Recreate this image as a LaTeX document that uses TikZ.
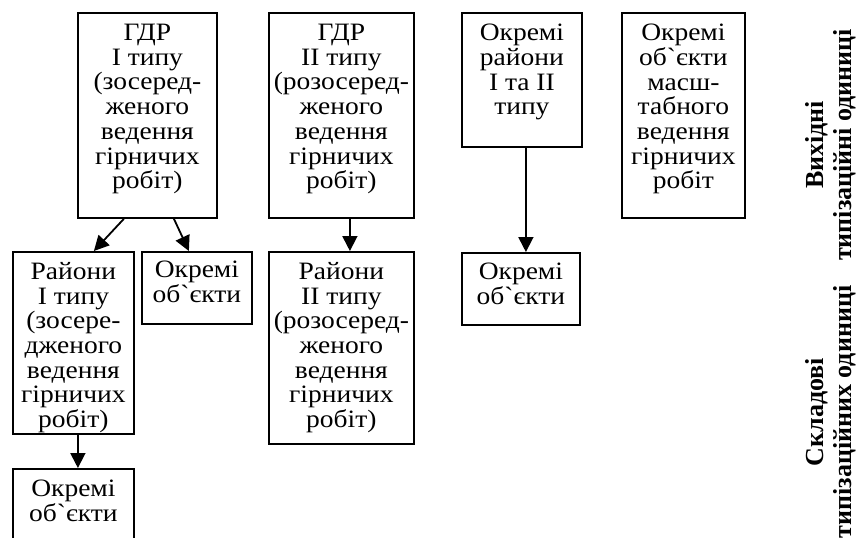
\documentclass[tikz,border=0pt]{standalone}
\usepackage{fontspec}
\setmainfont{Liberation Serif}[Ligatures=TeXOff, FakeStretch=1.1]
\newfontfamily\captionfont{Liberation Serif}[Ligatures=TeXOff]
\usetikzlibrary{arrows.meta}
\begin{document}
\begin{tikzpicture}[x=1pt,y=-1pt,
  box/.style={draw, line width=1.8pt, inner sep=0pt, anchor=north west},
  txt/.style={anchor=north, inner sep=0pt, align=center,
    font=\fontsize{25}{24.7}\selectfont},
  side/.style={rotate=90, inner sep=0pt, align=center,
    font=\captionfont\fontsize{26}{28}\selectfont\bfseries},
  arr/.style={line width=1.8pt, -{Triangle[length=15pt,width=15pt]}}]
\useasboundingbox (0,0) rectangle (860,538);

% first row: the source typing units
\node[box, minimum width=139pt, minimum height=205pt] (gdr1) at (77,12) {};
\node[txt] (gdr1t) at ([yshift=-12pt]gdr1.north)
  {ГДР\\ І типу\\ (зосеред-\\ женого\\ ведення\\ гірничих\\ робіт)};

\node[box, minimum width=145pt, minimum height=205pt] (gdr2) at (268,12) {};
\node[txt] (gdr2t) at ([yshift=-12pt]gdr2.north)
  {ГДР\\ ІІ типу\\ (розосеред-\\ женого\\ ведення\\ гірничих\\ робіт)};

\node[box, minimum width=120pt, minimum height=134pt] (dist) at (461,12) {};
\node[txt] (distt) at ([yshift=-12pt]dist.north)
  {Окремі\\ райони\\ І та ІІ\\ типу};

\node[box, minimum width=123pt, minimum height=205pt] (large) at (621,12) {};
\node[txt] (larget) at ([yshift=-12pt]large.north)
  {Окремі\\ об`єкти\\ масш-\\ табного\\ ведення\\ гірничих\\ робіт};

% second row: their components
\node[box, minimum width=121pt, minimum height=182pt] (reg1) at (12,251) {};
\node[txt] (reg1t) at ([yshift=-11pt]reg1.north)
  {Райони\\ І типу\\ (зосере-\\ дженого\\ ведення\\ гірничих\\ робіт)};

\node[box, minimum width=110pt, minimum height=72pt] (obj1) at (141,251) {};
\node[txt] (obj1t) at ([yshift=-10pt]obj1.north) {Окремі\\ об`єкти};

\node[box, minimum width=145pt, minimum height=192pt] (reg2) at (268,251) {};
\node[txt] (reg2t) at ([yshift=-11pt]reg2.north)
  {Райони\\ ІІ типу\\ (розосеред-\\ женого\\ ведення\\ гірничих\\ робіт)};

\node[box, minimum width=118pt, minimum height=72pt] (obj3) at (461,252) {};
\node[txt] (obj3t) at ([yshift=-11pt]obj3.north) {Окремі\\ об`єкти};

% third row
\node[box, minimum width=121pt, minimum height=90pt] (obj4) at (12,468) {};
\node[txt] (obj4t) at ([yshift=-12pt]obj4.north) {Окремі\\ об`єкти};

% connectors
\draw[arr] ([xshift=-23.5pt]gdr1.south) -- ([xshift=20.5pt]reg1.north);
\draw[arr] ([xshift=26.5pt]gdr1.south) -- ([xshift=-8pt]obj1.north);
\draw[arr] ([xshift=4.5pt]reg1.south) -- ([xshift=4.5pt]obj4.north);
\draw[arr] ([xshift=8.5pt]gdr2.south) -- ([xshift=8.5pt]reg2.north);
\draw[arr] ([xshift=4pt]dist.south) -- ([xshift=5pt]obj3.north);

% level captions
\node[side] (lvltop) at (831,145) {Вихідні\\ типізаційні одиниці};
\node[side] (lvlbot) at (831,412) {Складові\\ типізаційних одиниці};
\end{tikzpicture}
\end{document}
